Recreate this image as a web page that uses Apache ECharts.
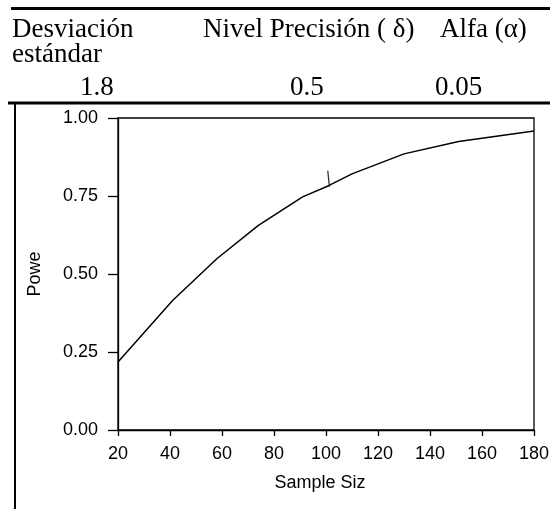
<!DOCTYPE html>
<html>
<head>
<meta charset="utf-8">
<script src="https://cdn.jsdelivr.net/npm/echarts@6/dist/echarts.min.js"></script>
<style>
  html, body { margin: 0; padding: 0; background: #fff; }
  #chart { width: 550px; height: 509px; }
</style>
</head>
<body>
<div id="chart"></div>
<script>
// datos
var sampleSize = [20, 41, 58, 74, 91, 101, 110, 130, 151, 180];
var power = [0.218, 0.415, 0.549, 0.656, 0.747, 0.783, 0.821, 0.885, 0.925, 0.958];
var markedPoint = [101, 0.783];

var headerLabels = ['Desviación', 'Nivel Precisión ( δ)', 'Alfa (α)'];
var headerValues = ['1.8', '0.5', '0.05'];

var serif = '"Liberation Serif", "Times New Roman", serif';
var sans = '"Liberation Sans", Arial, sans-serif';

window.onload = function() {
    var chart = echarts.init(document.getElementById('chart'));

    var lineData = [];
    for (var i = 0; i < sampleSize.length; i++) {
        lineData.push([sampleSize[i], power[i]]);
    }

    function headerText(x, y, text) {
        return {
            type: 'text',
            left: x, top: y,
            style: {
                text: text,
                fill: '#000',
                font: '27px ' + serif
            }
        };
    }

    chart.setOption({
        animation: false,
        grid: {
            left: 118,
            right: 16,
            top: 118,
            bottom: 79,
            outerBoundsMode: 'none',
            show: true,
            borderColor: '#000',
            borderWidth: 1.3
        },
        graphic: [
            { type: 'line', shape: { x1: 11, y1: 8.5, x2: 550, y2: 8.5 }, style: { stroke: '#000', lineWidth: 3 } },
            { type: 'line', shape: { x1: 8, y1: 103, x2: 550, y2: 103 }, style: { stroke: '#000', lineWidth: 3 } },
            { type: 'line', shape: { x1: 15, y1: 103, x2: 15, y2: 509 }, style: { stroke: '#000', lineWidth: 2 } },
            headerText(12, 16, headerLabels[0]),
            headerText(12, 41, 'estándar'),
            headerText(203, 16, headerLabels[1]),
            headerText(440, 16, headerLabels[2]),
            headerText(80, 74, headerValues[0]),
            headerText(290, 74, headerValues[1]),
            headerText(435, 74, headerValues[2])
        ],
        xAxis: {
            type: 'value',
            min: 20,
            max: 180,
            interval: 20,
            name: 'Sample Siz',
            nameLocation: 'middle',
            nameGap: 44,
            nameTextStyle: { color: '#000', fontSize: 18, fontFamily: sans, padding: [0, 12, 0, 0] },
            axisLine: { lineStyle: { color: '#000', width: 1.3 } },
            axisTick: { length: 6, lineStyle: { color: '#000', width: 1.3 } },
            axisLabel: { color: '#000', fontSize: 18, fontFamily: sans, margin: 15 },
            splitLine: { show: false }
        },
        yAxis: {
            type: 'value',
            min: 0,
            max: 1,
            interval: 0.25,
            name: 'Powe',
            nameLocation: 'middle',
            nameGap: 74,
            nameTextStyle: { color: '#000', fontSize: 18, fontFamily: sans },
            axisLine: { lineStyle: { color: '#000', width: 1.3 } },
            axisTick: { length: 10, lineStyle: { color: '#000', width: 1.3 } },
            axisLabel: {
                color: '#000', fontSize: 18, fontFamily: sans, margin: 20,
                formatter: function(v) { return v.toFixed(2); }
            },
            splitLine: { show: false }
        },
        series: [{
            type: 'line',
            data: lineData,
            symbol: 'none',
            lineStyle: { color: '#000', width: 1.5 }
        }, {
            type: 'scatter',
            data: [markedPoint],
            symbol: 'rect',
            symbolSize: [1.3, 16],
            symbolOffset: [0, -7],
            symbolRotate: 6,
            itemStyle: { color: '#000' },
            z: 3
        }]
    });
};
</script>
</body>
</html>
